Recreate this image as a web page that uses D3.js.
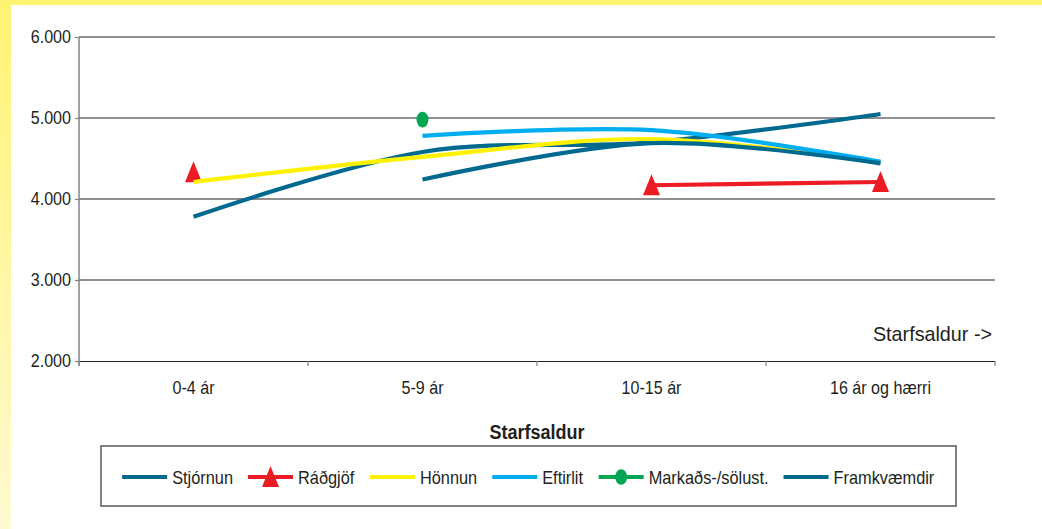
<!DOCTYPE html>
<html>
<head>
<meta charset="utf-8">
<script src="https://cdn.jsdelivr.net/npm/d3@7"></script>
<style>
	html, body { margin: 0; padding: 0; background: #fff; }
	svg { display: block; }
	text { font-family: "Liberation Sans", Arial, Helvetica, sans-serif; }
</style>
</head>
<body>
<div id="chart"></div>
<script>
(function() {
	// --- data ---
	const categories = ["0-4 ár", "5-9 ár", "10-15 ár", "16 ár og hærri"];
	const yTicks = [2000, 3000, 4000, 5000, 6000];
	const stjornun = [3780, 4580, 4700, 5050];
	const radgjof = [4330, null, 4170, 4210];
	const honnun = [4210, 4520, 4740, 4450];
	const eftirlit = [null, 4780, 4850, 4460];
	const markads = [null, 4980, null, null];
	const framkvaemdir = [null, 4240, 4690, 4440];

	const series = [
		{name: "Stjórnun", values: stjornun, color: "#00698F", marker: null},
		{name: "Ráðgjöf", values: radgjof, color: "#ED1C24", marker: "triangle"},
		{name: "Hönnun", values: honnun, color: "#FFF200", marker: null},
		{name: "Eftirlit", values: eftirlit, color: "#00AEEF", marker: null},
		{name: "Markaðs-/sölust.", values: markads, color: "#00A651", marker: "circle"},
		{name: "Framkvæmdir", values: framkvaemdir, color: "#00698F", marker: null}
	];

	const width = 1042, height = 529;
	const plot = {left: 79, right: 995, top: 37, bottom: 361};
	const ink = "#231F20";
	const squeeze = 0.87; // the original type is a condensed Helvetica

	// squeeze text horizontally to mimic the narrow face
	function narrow(sel, k) {
		sel.each(function() {
			const w = this.getComputedTextLength();
			d3.select(this).attr("textLength", w * (k || squeeze)).attr("lengthAdjust", "spacingAndGlyphs");
		});
	}

	const svg = d3.select("#chart").append("svg")
		.attr("width", width).attr("height", height);

	// yellow frame
	const defs = svg.append("defs");
	const grad = defs.append("linearGradient").attr("id", "frame")
		.attr("x1", 0).attr("y1", 0).attr("x2", 0).attr("y2", 1);
	grad.append("stop").attr("offset", "0%").attr("stop-color", "#FFF373");
	grad.append("stop").attr("offset", "100%").attr("stop-color", "#FFFAD2");
	svg.append("rect").attr("x", 0).attr("y", 0).attr("width", 11).attr("height", height).attr("fill", "url(#frame)");
	svg.append("rect").attr("x", 0).attr("y", 0).attr("width", width).attr("height", 5).attr("fill", "#FFF373");

	const x = d3.scaleBand().domain(categories).range([plot.left, plot.right]).padding(0);
	const y = d3.scaleLinear().domain([2000, 6000]).range([plot.bottom, plot.top]);
	const fmt = d3.formatLocale({decimal: ",", thousands: ".", grouping: [3], currency: ["", " kr."]}).format(",.0f");
	const cx = c => x(c) + x.bandwidth() / 2;

	// gridlines
	svg.append("g").selectAll("line").data(yTicks.filter(t => t > 2000)).join("line")
		.attr("x1", plot.left).attr("x2", plot.right)
		.attr("y1", d => y(d)).attr("y2", d => y(d))
		.attr("stroke", ink).attr("stroke-width", 1.2);

	// y axis
	const yAxis = svg.append("g").attr("transform", `translate(${plot.left},0)`)
		.call(d3.axisLeft(y).tickValues(yTicks).tickFormat(fmt).tickSize(4).tickPadding(4));
	yAxis.attr("font-family", null);
	yAxis.select(".domain").remove();
	yAxis.append("line").attr("x1", 0).attr("x2", 0).attr("y1", plot.top).attr("y2", plot.bottom + 5)
		.attr("stroke", "#808285").attr("stroke-width", 1.5);
	yAxis.selectAll(".tick line").attr("stroke", "#808285").attr("stroke-width", 1.2);
	yAxis.selectAll(".tick text").attr("font-size", 18.5).attr("fill", ink).call(narrow);

	// x axis
	const xAxis = svg.append("g").attr("transform", `translate(0,${plot.bottom})`)
		.call(d3.axisBottom(x).tickSize(0).tickPadding(20));
	xAxis.attr("font-family", null);
	xAxis.select(".domain").attr("stroke", ink).attr("stroke-width", 1.2);
	xAxis.selectAll(".tick text").attr("font-size", 18.5).attr("fill", ink).call(narrow);
	svg.append("g").selectAll("line")
		.data(categories.map(c => x(c)).concat([x(categories[categories.length - 1]) + x.bandwidth()]))
		.join("line")
		.attr("x1", d => d).attr("x2", d => d).attr("y1", plot.bottom).attr("y2", plot.bottom + 5)
		.attr("stroke", "#808285").attr("stroke-width", 1.2);

	svg.append("text")
		.attr("x", (plot.left + plot.right) / 2).attr("y", 439)
		.attr("text-anchor", "middle").attr("font-size", 20).attr("font-weight", "bold").attr("fill", ink)
		.text("Starfsaldur").call(narrow, 0.9);
	svg.append("text")
		.attr("x", 992).attr("y", 341)
		.attr("text-anchor", "end").attr("font-size", 21).attr("fill", ink)
		.text("Starfsaldur ->").call(narrow, 0.94);

	// lines
	const line = d3.line()
		.defined(d => d.v != null)
		.x(d => cx(d.c)).y(d => y(d.v))
		.curve(d3.curveCardinal.tension(0));

	const tri = "M0,-11L8.5,10L-8.5,10Z";

	series.forEach(s => {
		const pts = categories.map((c, i) => ({c: c, v: s.values[i]}));
		svg.append("path").datum(pts)
			.attr("d", line).attr("fill", "none")
			.attr("stroke", s.color).attr("stroke-width", 4.2).attr("stroke-linejoin", "round");
		if (s.marker) {
			const g = svg.append("g").selectAll("g").data(pts.filter(p => p.v != null)).join("g")
				.attr("transform", d => `translate(${cx(d.c)},${y(d.v)})`);
			if (s.marker === "triangle") g.append("path").attr("d", tri).attr("fill", s.color);
			else g.append("ellipse").attr("rx", 6).attr("ry", 7.8).attr("fill", s.color);
		}
	});

	// legend
	const box = {x: 101, y: 446, w: 855, h: 60};
	svg.append("rect").attr("x", box.x).attr("y", box.y).attr("width", box.w).attr("height", box.h)
		.attr("fill", "#fff").attr("stroke", "#58595B").attr("stroke-width", 1.5);
	const leg = svg.append("g");
	const ly = box.y + box.h / 2 + 1;
	const items = leg.selectAll("g").data(series).join("g");
	items.append("line").attr("x1", 0).attr("x2", 45).attr("y1", 0).attr("y2", 0)
		.attr("stroke", d => d.color).attr("stroke-width", 4.2);
	items.filter(d => d.marker === "triangle").append("path").attr("d", tri)
		.attr("transform", "translate(22.5,0)").attr("fill", d => d.color);
	items.filter(d => d.marker === "circle").append("ellipse")
		.attr("cx", 22.5).attr("rx", 6).attr("ry", 7.8).attr("fill", d => d.color);
	items.append("text")
		.attr("x", 50).attr("y", 6.5).attr("font-size", 19).attr("fill", ink)
		.text(d => d.name).call(narrow, 0.86);
	let pos = 0;
	const offs = [];
	items.each(function() {
		offs.push(pos);
		pos += this.getBBox().width + 15;
	});
	pos -= 15;
	const start = box.x + (box.w - pos) / 2;
	items.attr("transform", (d, i) => `translate(${start + offs[i]},${ly})`);
})();
</script>
</body>
</html>
